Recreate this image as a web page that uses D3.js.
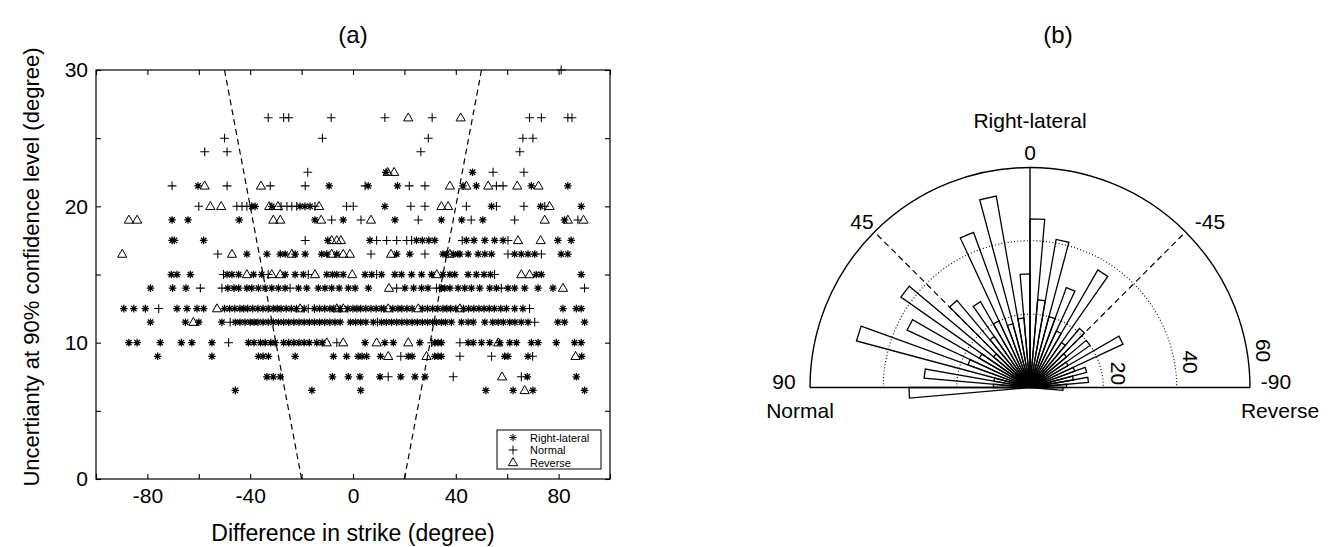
<!DOCTYPE html>
<html>
<head>
<meta charset="utf-8">
<script src="https://cdn.jsdelivr.net/npm/d3@7"></script>
<style>
  body { margin: 0; background: #fff; }
  text { font-family: "Liberation Sans", Arial, sans-serif; fill: #000; }
</style>
</head>
<body>
<svg id="chart" width="1335" height="547"></svg>
<script>
// ---- (a) scatter: [uncertainty level, [difference in strike values]] ----
const rightLateralRows = [
  [22.5, [12.8, 46.5]],
  [21.5, [-60.3, -9.3, 5.9, 17.3, 42.8, 48, 69.4, 83.6]],
  [20, [-39.4, -38.1, -31.6, -20.6, -18.7, -16.7, 12.4, 53.9, 73, 88.8]],
  [19, [-70.4, -64.2, -44.3, -14.8, -3.8, 16.3, 34.4, 42.3, 50.5, 82.3]],
  [17.5, [-70.4, -69.5, -58.1, -9.8, 6.6, 24.7, 27, 29.5, 31.8, 44.1, 47.1, 51.3, 55.1, 58.4, 79.7, 84.9]],
  [16.5, [-41.3, -33.5, -28.3, -26.4, -22.5, -18.6, -12.2, -10.2, -6.3, 17, 22.1, 35, 36.4, 39, 40.8, 41.6, 44.8, 48.7, 51.3, 53.9, 62.9, 65.5, 68.1, 70.7, 81, 83.6]],
  [15, [-70.7, -68.5, -63.3, -49, -47.1, -44.5, -38.7, -35.5, -26.4, -22.5, -19.3, -10.2, -8, -6.3, -3.8, 4.7, 7.3, 11.1, 16.3, 18.9, 22.8, 26.7, 30.6, 35, 37.7, 39.6, 44.8, 48, 51, 53.5, 71.3, 73.3, 88.8]],
  [14, [-78.8, -70.2, -65, -48.7, -46.3, -44.5, -41.3, -39.4, -36.8, -34.2, -31.6, -29, -26.4, -21.2, -18, -13.5, -10.9, -8.3, -5.4, -1.8, 0.8, 6, 20.2, 23.6, 26.7, 29.2, 34.4, 35.7, 37.7, 40.9, 43.5, 46.1, 49.3, 53.2, 55.8, 60.3, 62.9, 66.8, 72, 77.8]],
  [12.5, [-89.2, -85.3, -80.8, -68.5, -64.6, -60.7, -58.1, -50, -48, -46, -44, -42.5, -41, -39, -37, -35, -33, -31, -29.5, -28, -26, -24, -22, -19, -15, -13, -11, -9, -7.5, -5, -2, 0, 1.5, 3, 5, 7, 9, 11, 12, 15.5, 17.5, 19, 21, 23, 27, 29, 31, 33, 35, 36.5, 38, 40, 43, 45, 47, 49, 51, 53, 55, 57.5, 59.7, 62.9, 66.1, 81.7, 86.9, 88.8]],
  [11.5, [-78.8, -65.2, -60, -51, -45.8, -44, -42, -40, -38.5, -37, -35, -33, -31, -29, -27, -25, -23, -21, -19, -17, -15, -13, -11, -9, -7, -5, -1, 1, 3, 5, 7.9, 11.1, 13, 15, 17, 19, 21, 23, 25, 27, 29, 31, 32.5, 34.4, 36, 38.3, 42.2, 44.8, 46.8, 51.3, 54.4, 56.5, 58.5, 61, 63, 65.5, 68.1, 79.7, 82.3, 90.1]],
  [10, [-87.2, -84, -75, -66.8, -62.7, -54.9, -40.7, -38.5, -36, -34.2, -32, -30.3, -27, -25, -23, -21, -19, -17, -14.1, -12, 4.7, 12.4, 15.7, 26, 31.8, 33.1, 34.4, 44.8, 46.8, 50, 53.2, 57.1, 61, 63.6, 69.4, 72, 79.1, 86.2, 88.8]],
  [9, [-76, -54.9, -36.8, -35, -32.9, -22.5, -7.6, -2.5, 2, 3.5, 5.3, 10.7, 21.5, 23, 31.8, 33.1, 34.4, 59, 60.3, 68.1, 89]],
  [7.5, [-33.5, -31, -28.3, -8, -1.8, 2.7, 10.5, 18.6, 24.1, 28, 67.8, 86.9]],
  [6.5, [-45.8, -16, 3, 51.7, 62.3, 70, 90.1]]
];
const normalRows = [
  [30, [81]],
  [26.5, [-33, -27, -25, -8.5, 12.4, 30.8, 68.7, 73.3, 83.6, 85.2]],
  [25, [-50, -11.9, 29.3, 66.1, 70]],
  [24, [-57.7, -49, 26.4, 64.9]],
  [22.5, [-17.6, 54.5, 66.5]],
  [21.5, [-70.4, -49, -32.2, -18.6, 4.7, 21.9, 28, 55.8, 58.4]],
  [20, [-60, -45.2, -43.2, -41.3, -28, -25.7, -23.8, -21.9, -14.8, -2.5, 0.1, 22.5, 28, 44.1, 55.8, 66.5, 74.6]],
  [19, [-8.3, 3.1, 25.4, 46, 62.9, 87.5]],
  [17.5, [-18.6, 9.2, 13.1, 17, 20.9, 22.8, 42.5, 60.3]],
  [16.5, [-52.6, 7, 28, 60.3, 73.3]],
  [15, [-50.4, -33, -17.4, 9.2, 55.1]],
  [14, [-59.4, -51, -24.5, 17, 32.5, 33.8, 57.7, 90.1]],
  [12.5, [-75.6, -17.4, -15, 68.7]],
  [11.5, [-47.8, 9.5, 70.7]],
  [10, [-48.4, -6.3, 30.6, 41.6]],
  [9, [18.6, 41.6, 53.9, 69.9]],
  [7.5, [13.7, 39, 65.5]]
];
const reverseRows = [
  [26.5, [21.5, 41.9]],
  [22.5, [13.5, 16]],
  [21.5, [-57.7, -35.8, 37.7, 44.1, 52.6, 63.9, 72.2]],
  [20, [-55.5, -51.3, -32.6, -29.2, -13.2, 34.4, 37, 76.5]],
  [19, [-87.2, -84, -31, -28.3, -12.4, 7, 74.6, 83.6, 89.7]],
  [17.5, [-8.3, -6.3, -4.7, 64.2, 73]],
  [16.5, [-89.8, -47.1, -23.8, -8.3, -3.8, -1.2, 14.8, 37.7]],
  [15, [-41.3, -31.6, -28.3, -14.8, -0.3, 32.6, 65.5, 68.7]],
  [14, [14, 81.7]],
  [12.5, [-52.9, -20.6, -6.3, -3.8, 13.7, 25.4, 41.6]],
  [11.5, [-62.1]],
  [10, [-10.2, -3.8, 9.2, 21.5, 56.5]],
  [9, [13.7, 28.6, 86.6]],
  [7.5, [58]],
  [6.5, [66.8]]
];
// dashed boundary lines, [[x,y],[x,y]]
const guideLines = [[[-50, 30], [-20, 0]], [[50, 30], [20, 0]]];
const xTickLabels = [-80, -40, 0, 40, 80];
const yTickLabels = [0, 10, 20, 30];
const legendItems = [["star", "Right-lateral"], ["plus", "Normal"], ["tri", "Reverse"]];

// ---- (b) rose: lower edge of each 5 degree bin and its count ----
const roseBinStart = [-95, -90, -85, -80, -75, -70, -65, -60, -55, -50, -45, -40, -35, -30, -25, -20, -15, -10, -5,
                      0, 5, 10, 15, 20, 25, 30, 35, 40, 45, 50, 55, 60, 65, 70, 75, 80, 85, 90];
const roseCounts = [9, 10, 16, 12, 16, 13, 28, 12, 20, 13, 21, 15, 37, 17, 29, 20, 41, 24, 46,
                    31, 19, 53, 18, 45, 20, 27, 17, 31, 13, 43, 16, 37, 18, 49, 10, 29, 10, 33];
const roseRings = [20, 40];
const roseSpokes = [45, -45];
const roseAngleLabels = [[0, "0"], [45, "45"], [-45, "-45"], [90, "90"], [-90, "-90"]];

const svg = d3.select("#chart");
svg.append("rect").attr("width", 1335).attr("height", 547).attr("fill", "#fff");

const markerPath = {
  star: "M-3.8,0H3.8M0,-3.8V3.8M-2.7,-2.7L2.7,2.7M-2.7,2.7L2.7,-2.7",
  plus: "M-4.4,0H4.4M0,-4.4V4.4",
  tri: "M0,-4.8L4.6,3.2L-4.6,3.2Z"
};

// ================= (a) =================
const x = d3.scaleLinear().domain([-100, 100]).range([96, 610]);
const y = d3.scaleLinear().domain([0, 30]).range([479, 70]);
const gA = svg.append("g");

gA.selectAll("line.guide")
    .data(guideLines)
    .enter()
    .append("line")
    .attr("class", "guide")
    .attr("x1", d => x(d[0][0])).attr("y1", d => y(d[0][1]))
    .attr("x2", d => x(d[1][0])).attr("y2", d => y(d[1][1]))
    .attr("stroke", "#000").attr("stroke-width", 1.2)
    .attr("stroke-dasharray", "6,4");

function rowsToPoints(rows) {
  return rows.flatMap(r => r[1].map(v => [v, r[0]]));
}
const series = [
  ["star", rowsToPoints(rightLateralRows), 1.25],
  ["plus", rowsToPoints(normalRows), 1.05],
  ["tri", rowsToPoints(reverseRows), 1.0]
];
series.forEach(function(s) {
  gA.append("g").selectAll("path")
      .data(s[1])
      .enter()
      .append("path")
      .attr("transform", d => "translate(" + x(d[0]) + "," + y(d[1]) + ")")
      .attr("d", markerPath[s[0]])
      .attr("fill", "none")
      .attr("stroke", "#000")
      .attr("stroke-width", s[2]);
});

// axes with inward ticks on all four sides
const xTicks = d3.range(-100, 101, 20), yTicks = d3.range(0, 31, 5);
function styleAxis(g) {
  g.select(".domain").remove();
  g.selectAll(".tick line").attr("stroke", "#000").attr("stroke-width", 1.1);
  g.selectAll("text").attr("font-size", 21).attr("font-family", "Liberation Sans, Arial, sans-serif").attr("fill", "#000");
}
gA.append("g").attr("transform", "translate(0,479)")
    .call(d3.axisBottom(x).tickValues(xTicks).tickSizeInner(-5).tickSizeOuter(0).tickPadding(9)
      .tickFormat(d => xTickLabels.includes(d) ? String(d) : ""))
    .call(styleAxis);
gA.append("g").attr("transform", "translate(0,70)")
    .call(d3.axisTop(x).tickValues(xTicks).tickSizeInner(-5).tickSizeOuter(0).tickFormat(""))
    .call(styleAxis);
gA.append("g").attr("transform", "translate(96,0)")
    .call(d3.axisLeft(y).tickValues(yTicks).tickSizeInner(-5).tickSizeOuter(0).tickPadding(8)
      .tickFormat(d => yTickLabels.includes(d) ? String(d) : ""))
    .call(styleAxis);
gA.append("g").attr("transform", "translate(610,0)")
    .call(d3.axisRight(y).tickValues(yTicks).tickSizeInner(-5).tickSizeOuter(0).tickFormat(""))
    .call(styleAxis);

gA.append("rect")
    .attr("x", x(-100)).attr("y", y(30))
    .attr("width", x(100) - x(-100)).attr("height", y(0) - y(30))
    .attr("fill", "none").attr("stroke", "#000").attr("stroke-width", 1.2);

// legend
const leg = gA.append("g").attr("transform", "translate(497,430)");
leg.append("rect").attr("width", 104).attr("height", 39)
    .attr("fill", "#fff").attr("stroke", "#000").attr("stroke-width", 1);
leg.selectAll("path")
    .data(legendItems)
    .enter()
    .append("path")
    .attr("transform", (d, i) => "translate(16," + (7.5 + i * 12.5) + ")")
    .attr("d", d => markerPath[d[0]])
    .attr("fill", "none").attr("stroke", "#000").attr("stroke-width", 1);
leg.selectAll("text")
    .data(legendItems)
    .enter()
    .append("text")
    .attr("x", 33).attr("y", (d, i) => 7.5 + i * 12.5)
    .attr("dominant-baseline", "central")
    .attr("font-size", 11)
    .text(d => d[1]);

gA.append("text").attr("x", 353).attr("y", 34)
    .attr("text-anchor", "middle").attr("dominant-baseline", "central")
    .attr("font-size", 24).text("(a)");
gA.append("text").attr("x", 353).attr("y", 533)
    .attr("text-anchor", "middle").attr("dominant-baseline", "central")
    .attr("font-size", 23).text("Difference in strike (degree)");
gA.append("text").attr("transform", "translate(31,267) rotate(-90)")
    .attr("text-anchor", "middle").attr("dominant-baseline", "central")
    .attr("font-size", 22).text("Uncertianty at 90% confidence level (degree)");

// ================= (b) =================
const cx = 1030, cy = 387.5;
const r = d3.scaleLinear().domain([0, 60]).range([0, 220]);
const R = r(60);
function pt(deg, rad) {
  const a = deg * Math.PI / 180;
  return [cx - rad * Math.sin(a), cy - rad * Math.cos(a)];
}
const gB = svg.append("g");

function halfCircle(rad) {
  const p = d3.path();
  p.moveTo(cx - rad, cy);
  p.arc(cx, cy, rad, Math.PI, 2 * Math.PI);
  return p.toString();
}
gB.selectAll("path.ring")
    .data(roseRings)
    .enter()
    .append("path")
    .attr("class", "ring")
    .attr("d", d => halfCircle(r(d)))
    .attr("fill", "none").attr("stroke", "#000").attr("stroke-width", 1.1)
    .attr("stroke-dasharray", "1,2.2");
gB.selectAll("line.spoke")
    .data(roseSpokes)
    .enter()
    .append("line")
    .attr("class", "spoke")
    .attr("x1", cx).attr("y1", cy)
    .attr("x2", d => pt(d, R)[0]).attr("y2", d => pt(d, R)[1])
    .attr("stroke", "#000").attr("stroke-width", 1.2)
    .attr("stroke-dasharray", "6,4");
gB.append("path").attr("d", halfCircle(R))
    .attr("fill", "none").attr("stroke", "#000").attr("stroke-width", 1.4);
gB.append("line").attr("x1", cx - R).attr("x2", cx + R).attr("y1", cy).attr("y2", cy)
    .attr("stroke", "#000").attr("stroke-width", 1.4);
gB.append("line").attr("x1", cx).attr("x2", cx).attr("y1", cy).attr("y2", cy - R)
    .attr("stroke", "#000").attr("stroke-width", 1.4);

// wedges
gB.selectAll("path.bin")
    .data(roseBinStart.map((b, i) => [b, roseCounts[i]]))
    .enter()
    .append("path")
    .attr("class", "bin")
    .attr("d", function(d) {
      const a = pt(d[0], r(d[1])), b = pt(d[0] + 5, r(d[1]));
      return "M" + cx + "," + cy + "L" + a[0] + "," + a[1] + "L" + b[0] + "," + b[1] + "Z";
    })
    .attr("fill", "none").attr("stroke", "#000").attr("stroke-width", 1.3)
    .attr("stroke-linejoin", "miter");

// angle labels
const angleLabelPos = {"0": [1030, 152], "45": [862, 221], "-45": [1210, 221], "90": [784, 381], "-90": [1276, 381]};
gB.selectAll("text.ang")
    .data(roseAngleLabels)
    .enter()
    .append("text")
    .attr("class", "ang")
    .attr("x", d => angleLabelPos[d[1]][0]).attr("y", d => angleLabelPos[d[1]][1])
    .attr("text-anchor", "middle").attr("dominant-baseline", "central")
    .attr("font-size", 21)
    .text(d => d[1]);

// radial labels
gB.selectAll("text.rad")
    .data([20, 40, 60])
    .enter()
    .append("text")
    .attr("class", "rad")
    .attr("transform", function(d) {
      const p = pt(-81, r(d) + 16);
      return "translate(" + p[0] + "," + p[1] + ") rotate(90)";
    })
    .attr("text-anchor", "middle").attr("dominant-baseline", "central")
    .attr("font-size", 21)
    .text(d => d);

gB.append("text").attr("x", 1030).attr("y", 120)
    .attr("text-anchor", "middle").attr("dominant-baseline", "central")
    .attr("font-size", 21).text("Right-lateral");
gB.append("text").attr("x", 800).attr("y", 410)
    .attr("text-anchor", "middle").attr("dominant-baseline", "central")
    .attr("font-size", 21).text("Normal");
gB.append("text").attr("x", 1280).attr("y", 410)
    .attr("text-anchor", "middle").attr("dominant-baseline", "central")
    .attr("font-size", 21).text("Reverse");
gB.append("text").attr("x", 1058).attr("y", 34)
    .attr("text-anchor", "middle").attr("dominant-baseline", "central")
    .attr("font-size", 24).text("(b)");
</script>
</body>
</html>
